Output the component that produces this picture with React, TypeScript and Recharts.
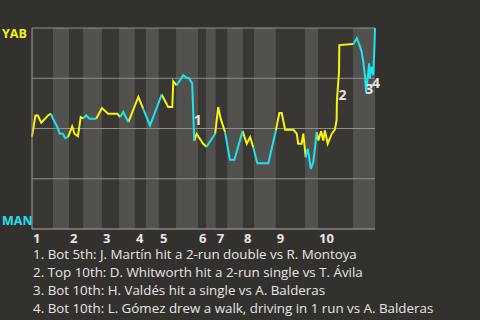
import React from "react";
import {
  LineChart,
  Line,
  XAxis,
  YAxis,
  ReferenceArea,
  ReferenceLine,
  ReferenceDot,
} from "recharts";

document.body.style.margin = "0";

// win probability for YAB after each play (1 = YAB wins)
const PLAY = [
  0, 1.0, 1.7, 2.7, 4.7, 5.5, 6.1, 7.4, 8.1, 9.0, 9.7, 10.5, 11.7, 12.4, 13.4,
  14.2, 14.9, 15.8, 16.8, 18.7, 20.4, 22.2, 23.1, 24.9, 25.7, 26.6, 28.1, 31.0,
  32.4, 34.4, 37.8, 39.7, 40.9, 41.2, 42.2, 44.1, 45.1, 45.8, 46.7, 47.3, 48.0,
  49.9, 50.9, 53.4, 54.3, 55.0, 56.3, 57.7, 59.0, 61.4, 62.6, 63.6, 64.5, 65.7,
  68.9, 71.1, 72.1, 72.8, 73.8, 76.2, 77.2, 77.6, 78.6, 79.1, 79.8, 80.4, 81.3,
  82.0, 83.0, 83.5, 84.3, 84.9, 85.4, 86.2, 87.4, 88.3, 88.8, 88.9, 89.5, 89.6,
  93.7, 94.7, 95.5, 96.1, 96.6, 97.1, 97.4, 97.8, 98.3, 98.5, 99.0, 99.5, 99.8,
  100,
];
const WP = [
  0.46, 0.565, 0.565, 0.529, 0.565, 0.574, 0.55, 0.507, 0.474, 0.474, 0.452,
  0.457, 0.51, 0.474, 0.462, 0.557, 0.55, 0.565, 0.549, 0.549, 0.602, 0.574,
  0.574, 0.574, 0.557, 0.582, 0.532, 0.657, 0.599, 0.515, 0.669, 0.607, 0.607,
  0.735, 0.715, 0.765, 0.752, 0.75, 0.724, 0.44, 0.474, 0.424, 0.409, 0.474,
  0.607, 0.549, 0.482, 0.344, 0.344, 0.487, 0.424, 0.457, 0.407, 0.327, 0.327,
  0.49, 0.577, 0.577, 0.494, 0.494, 0.474, 0.424, 0.424, 0.474, 0.357, 0.399,
  0.299, 0.332, 0.482, 0.44, 0.487, 0.44, 0.49, 0.424, 0.474, 0.494, 0.54, 0.64,
  0.78, 0.915, 0.92, 0.949, 0.915, 0.882, 0.832, 0.757, 0.682, 0.74, 0.824,
  0.749, 0.807, 0.765, 0.89, 1.0,
];
// number of plays in each half inning (top 1, bot 1, top 2, ...)
const PLAYS_PER_HALF = [6, 6, 5, 3, 5, 2, 2, 2, 4, 5, 3, 1, 3, 3, 3, 3, 9, 4, 12, 13];
// where each half inning starts on the play axis
const HALF_START = [
  0, 6.1, 10.8, 14.9, 20.4, 25.4, 30.0, 33.2, 37.0, 42.0, 48.4, 50.7, 53.6,
  56.9, 61.5, 64.7, 71.1, 79.6, 83.4, 93.6,
];
const PLAY_END = 100;
const INNING_LABELS = ["1", "2", "3", "4", "5", "6", "7", "8", "9", "10"];

const NOTE_PLAY = [48.3, 90.5, 98.3, 100.3];
const NOTE_WP = [0.545, 0.67, 0.7, 0.73];
const NOTES = [
  "Bot 5th: J. Martín hit a 2-run double vs R. Montoya",
  "Top 10th: D. Whitworth hit a 2-run single vs T. Ávila",
  "Bot 10th: H. Valdés hit a single vs A. Balderas",
  "Bot 10th: L. Gómez drew a walk, driving in 1 run vs A. Balderas",
];

const BG = "#33312e";
const DARK_BAND = "#393734";
const LIGHT_BAND = "#53514e";
const GRID = "#8f8f8f";
const YELLOW = "#f5f50f";
const CYAN = "#1ee3ef";
const TEXT = "#e6e6e6";
const FONT = "'Open Sans', sans-serif";

const half: number[] = [];
PLAYS_PER_HALF.forEach((count, h) => {
  for (let k = 0; k < count; k++) half.push(h);
});

type Pt = { play: number; v: number | null };
type Run = { half: number; pts: Pt[] };

// each segment is coloured by the half inning of the play it ends on
const runs: Run[] = [];
PLAY.forEach((p, i) => {
  let cur = runs[runs.length - 1];
  if (!cur || cur.half !== half[i]) {
    cur = { half: half[i], pts: i > 0 ? [{ play: PLAY[i - 1], v: WP[i - 1] }] : [] };
    runs.push(cur);
  }
  cur.pts.push({ play: p, v: WP[i] });
});

function seriesFor(isTop: boolean): Pt[] {
  return runs
    .filter((r) => (r.half % 2 === 0) === isTop)
    .flatMap((r) => [...r.pts, { play: r.pts[r.pts.length - 1].play, v: null }]);
}

const topData = seriesFor(true);
const botData = seriesFor(false);
const inningStarts = HALF_START.filter((_, i) => i % 2 === 0);

function InningTick({ x, y, payload }: { x: number; y: number; payload: { value: number } }) {
  const i = inningStarts.indexOf(payload.value);
  return (
    <text x={x + 1} y={y + 13.5} fill={TEXT} fontSize={13} fontWeight={700} fontFamily={FONT}>
      {INNING_LABELS[i]}
    </text>
  );
}

function TeamTick({ y, payload }: { y: number; payload: { value: number } }) {
  const isYab = payload.value === 1;
  return (
    <text
      x={2}
      y={isYab ? y + 10 : y - 4}
      fill={isYab ? YELLOW : CYAN}
      fontSize={12.5}
      fontWeight={700}
      fontFamily={FONT}
    >
      {isYab ? "YAB" : "MAN"}
    </text>
  );
}

export default function App() {
  return (
    <div style={{ position: "relative", width: 480, height: 320, background: BG, overflow: "hidden" }}>
      <LineChart width={480} height={246} margin={{ top: 28, right: 105, bottom: 0, left: 0 }}>
        <XAxis
          type="number"
          dataKey="play"
          domain={[0, PLAY_END]}
          ticks={inningStarts}
          interval={0}
          tick={InningTick as any}
          tickLine={false}
          tickSize={0}
          tickMargin={0}
          height={17}
          axisLine={{ stroke: "#a8a8a8" }}
          allowDuplicatedCategory={false}
        />
        <YAxis
          type="number"
          domain={[0, 1]}
          ticks={[0, 1]}
          interval={0}
          width={32}
          tick={TeamTick as any}
          tickLine={false}
          axisLine={{ stroke: "#a0a0a0" }}
        />
        {HALF_START.map((start, i) => (
          <ReferenceArea
            key={i}
            x1={start}
            x2={i + 1 < HALF_START.length ? HALF_START[i + 1] : PLAY_END}
            y1={0}
            y2={1}
            fill={i % 2 === 0 ? DARK_BAND : LIGHT_BAND}
            fillOpacity={1}
            stroke="none"
          />
        ))}
        {[0.25, 0.5, 0.75, 1].map((v) => (
          <ReferenceLine key={v} y={v} stroke={GRID} strokeWidth={1} />
        ))}
        <Line
          data={topData}
          dataKey="v"
          type="linear"
          stroke={YELLOW}
          strokeWidth={2}
          dot={false}
          connectNulls={false}
          isAnimationActive={false}
        />
        <Line
          data={botData}
          dataKey="v"
          type="linear"
          stroke={CYAN}
          strokeWidth={2}
          dot={false}
          connectNulls={false}
          isAnimationActive={false}
        />
        {NOTE_PLAY.map((p, i) => (
          <ReferenceDot
            key={i}
            x={p}
            y={NOTE_WP[i]}
            ifOverflow="visible"
            shape={(props: any) => (
              <text
                x={props.cx}
                y={props.cy}
                textAnchor="middle"
                dominantBaseline="central"
                fill={TEXT}
                fontSize={14}
                fontWeight={700}
                fontFamily={FONT}
              >
                {i + 1}
              </text>
            )}
          />
        ))}
      </LineChart>
      <div
        style={{
          position: "absolute",
          left: 33,
          top: 245,
          color: TEXT,
          fontFamily: FONT,
          fontSize: 13.35,
          lineHeight: "18px",
          whiteSpace: "nowrap",
        }}
      >
        {NOTES.map((n, i) => (
          <div key={i}>
            {i + 1}. {n}
          </div>
        ))}
      </div>
    </div>
  );
}
